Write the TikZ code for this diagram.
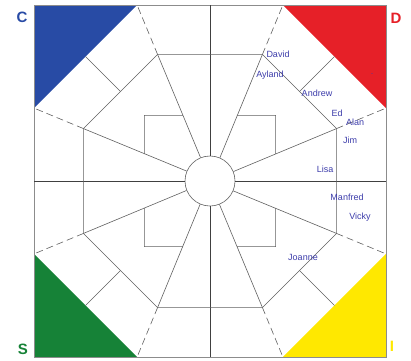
\documentclass[tikz,border=0pt]{standalone}
\usepackage{fontspec}
\setmainfont{Liberation Sans}
\usetikzlibrary{calc}
\definecolor{cblue}{RGB}{40,75,165}
\definecolor{cred}{RGB}{230,32,40}
\definecolor{cgreen}{RGB}{22,130,55}
\definecolor{cyellow}{RGB}{255,232,0}
\definecolor{namec}{RGB}{60,60,170}
\definecolor{linec}{RGB}{95,95,95}
\begin{document}
\begin{tikzpicture}[x=1pt,y=1pt,
  gridline/.style={draw=linec, line width=0.6pt},
  axisline/.style={draw=black!75, line width=0.7pt},
  dashpart/.style={draw=linec, line width=0.6pt, dash pattern=on 7pt off 4pt},
  border/.style={draw=black!45, line width=0.8pt},
  person/.style={text=namec, font=\fontsize{9}{10}\selectfont, inner sep=0pt},
  cornerlbl/.style={font=\fontsize{15}{15}\selectfont\bfseries, inner sep=0pt}]
\useasboundingbox (0,0) rectangle (411,360);
\coordinate (O) at (210,179);
% square corners and edge midpoints
\coordinate (SQne) at (386,355);
\coordinate (SQnw) at (34,355);
\coordinate (SQsw) at (34,3);
\coordinate (SQse) at (386,3);
\coordinate (Ee) at (386,179);
\coordinate (Nn) at (210,355);
\coordinate (Ww) at (34,179);
\coordinate (Ss) at (210,3);
% octagon points
\foreach \i in {0,...,7}{
  \coordinate (V\i) at ($(O)+({22.5+45*\i}:190.5)$);
  \coordinate (W\i) at ($(O)+({22.5+45*\i}:137)$);
  \coordinate (P\i) at ($(O)+({22.5+45*\i}:71)$);
}
\foreach \j/\a in {1/45,2/135,3/225,4/315}{
  \coordinate (K\j) at ($(O)+(\a:92.8)$);
  \coordinate (Ai\j) at ($(O)+(\a:126.6)$);
  \coordinate (Ao\j) at ($(O)+(\a:176)$);
}
% corner triangles
\fill[cred] (SQne) -- (V1) -- (V0) -- cycle;
\fill[cblue] (SQnw) -- (V2) -- (V3) -- cycle;
\fill[cgreen] (SQsw) -- (V4) -- (V5) -- cycle;
\fill[cyellow] (SQse) -- (V6) -- (V7) -- cycle;
% border
\draw[border] (SQsw) rectangle (SQne);
% hub
\node[circle, draw=linec, line width=0.6pt, minimum size=50pt, inner sep=0pt] (hub) at (O) {};
% axis spokes
\draw[axisline] (hub.0) -- (Ee);
\draw[axisline] (hub.90) -- (Nn);
\draw[axisline] (hub.180) -- (Ww);
\draw[axisline] (hub.270) -- (Ss);
% diagonal spokes
\foreach \i in {0,...,7}{
  \draw[gridline] (hub.{22.5+45*\i}) -- (W\i);
  \draw[dashpart] (W\i) -- (V\i);
}
% inner octagon
\draw[gridline] (W0) -- (W1) -- (W2) -- (W3) -- (W4) -- (W5) -- (W6) -- (W7) -- cycle;
% petals
\draw[gridline] (P0) -- (K1) -- (P1);
\draw[gridline] (P2) -- (K2) -- (P3);
\draw[gridline] (P4) -- (K3) -- (P5);
\draw[gridline] (P6) -- (K4) -- (P7);
% 45 degree segments
\foreach \j in {1,...,4}{ \draw[gridline] (Ai\j) -- (Ao\j); }
% names
\node[person] (david) at (278,306) {David};
\node[person] (ayland) at (270,285) {Ayland};
\node[person] (andrew) at (317,267) {Andrew};
\node[person] (ed) at (337,247) {Ed};
\node[person] (alan) at (355,238) {Alan};
\node[person] (jim) at (350,220) {Jim};
\node[person] (lisa) at (325,191) {Lisa};
\node[person] (manfred) at (347,163) {Manfred};
\node[person] (vicky) at (360,143) {Vicky};
\node[person] (joanne) at (303,103) {Joanne};
\node[text=namec, font=\fontsize{6}{6}\selectfont, inner sep=0pt] (mark) at (372,285) {-};
% corner letters
\node[cornerlbl, text=cblue] (lc) at (22,343) {C};
\node[cornerlbl, text=cred] (ld) at (396,342) {D};
\node[cornerlbl, text=cgreen] (ls) at (23,11) {S};
\node[cornerlbl, text=cyellow] (li) at (392,14) {I};
\end{tikzpicture}
\end{document}
